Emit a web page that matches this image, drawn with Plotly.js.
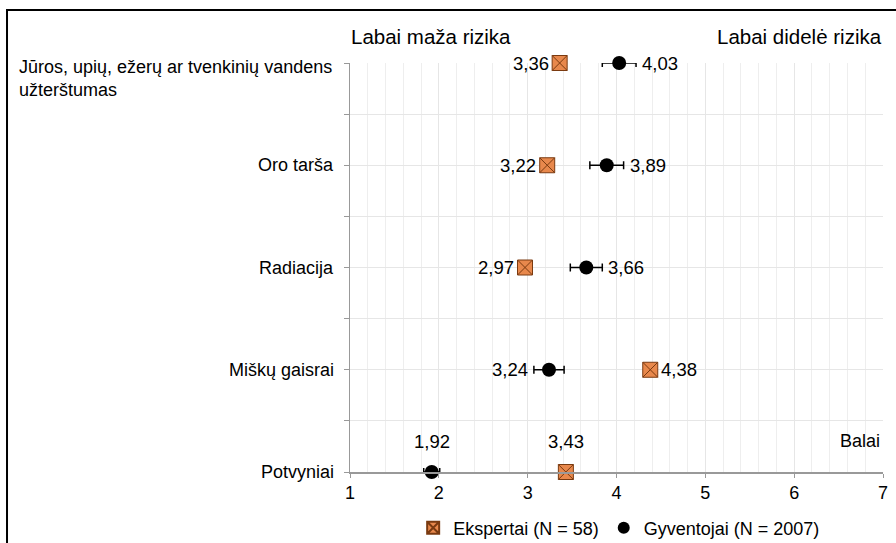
<!DOCTYPE html>
<html><head><meta charset="utf-8">
<script src="https://cdn.plot.ly/plotly-3.0.1.min.js"></script>
<style>html,body{margin:0;padding:0;background:#fff}#c{width:896px;height:543px}</style>
</head><body><div id="c"></div>
<script>
const categories = ["Potvyniai","Miškų gaisrai","Radiacija","Oro tarša","Jūros, upių, ežerų ar tvenkinių vandens<br>užterštumas"];
const expertai = [3.43, 4.38, 2.97, 3.22, 3.36];
const gyventojai = [1.92, 3.24, 3.66, 3.89, 4.03];
const gyvErr = [0.09, 0.17, 0.18, 0.19, 0.19];
const expSide = ["top","right","left","left","left"];
const gyvSide = ["top","left","right","right","right"];
const fmt = v => v.toFixed(2).replace('.', ',');
const yIdx = categories.map((c,i)=>i);
const F = "Liberation Sans, Arial, sans-serif";
const LBL = 18.5;

const traces = [
 {type:'scatter', mode:'markers', name:'Ekspertai (N = 58)', x:expertai, y:yIdx,
  marker:{symbol:'square-x', size:15, color:'#E8884C', line:{color:'#7a3a10', width:1}}, cliponaxis:false},
 {type:'scatter', mode:'markers', name:'Gyventojai (N = 2007)', x:gyventojai, y:yIdx,
  error_x:{type:'data', array:gyvErr, color:'#000', thickness:1.5, width:4},
  marker:{symbol:'circle', size:14, color:'#000'}, cliponaxis:false}
];

const ann = [
 {xref:'paper', yref:'paper', x:-0.002, y:1.065, xanchor:'left', yanchor:'middle', text:'Labai maža rizika', showarrow:false, font:{family:F,size:20.5,color:'#000'}},
 {xref:'paper', yref:'paper', x:1.002, y:1.065, xanchor:'right', yanchor:'middle', text:'Labai didelė rizika', showarrow:false, font:{family:F,size:20.5,color:'#000'}},
 {xref:'paper', yref:'paper', x:0.998, y:0.076, xanchor:'right', yanchor:'middle', text:'Balai', showarrow:false, font:{family:F,size:18,color:'#000'}}
];
function label(v, y, side, halfw) {
  const a = {xref:'x', yref:'y', x:v, y:y, text:fmt(v), showarrow:false, font:{family:F,size:LBL,color:'#000'}, yanchor:'middle'};
  if (side==='left') { a.xanchor='right'; a.xshift=-halfw; }
  else if (side==='right') { a.xanchor='left'; a.xshift=halfw; }
  else { a.xanchor='center'; a.yshift=31; }
  return a;
}
yIdx.forEach(i=>{
  ann.push(label(expertai[i], i, expSide[i], 9));
  const g = label(gyventojai[i], i, gyvSide[i], 4);
  if (gyvSide[i]==='right') g.x = gyventojai[i] + gyvErr[i];
  if (gyvSide[i]==='left') g.x = gyventojai[i] - gyvErr[i];
  g.text = fmt(gyventojai[i]);
  ann.push(g);
});
categories.forEach((c,i)=>{
  if (i===4) {
    ann.push({xref:'paper', yref:'y', x:-0.624, y:i, xanchor:'left', yanchor:'top', yshift:8, align:'left', text:c, showarrow:false, font:{family:F,size:18,color:'#000'}});
  } else {
    ann.push({xref:'paper', yref:'y', x:-0.027, y:i, xanchor:'right', yanchor:'middle', text:c, showarrow:false, font:{family:F,size:18,color:'#000'}});
  }
});

const layout = {
  width:896, height:543, margin:{l:350, r:13, t:63, b:71, autoexpand:false},
  paper_bgcolor:'#fff', plot_bgcolor:'#fff', font:{family:F, size:18, color:'#000'},
  showlegend:true,
  legend:{orientation:'h', x:0.505, xanchor:'center', y:-0.092, yanchor:'top', font:{family:F,size:18}, itemwidth:30, itemsizing:'constant', tracegroupgap:0},
  xaxis:{range:[1,7], dtick:1, tick0:1, showgrid:true, gridcolor:'#e6e6e6', zeroline:false,
    showline:true, linecolor:'#999', linewidth:1.5, ticks:'outside', ticklen:4, tickcolor:'#999', tickfont:{family:F,size:18},
    minor:{dtick:0.2, showgrid:true, gridcolor:'#eeeeee', gridwidth:1}},
  yaxis:{range:[0,4], dtick:0.5, tick0:0, showticklabels:false, showgrid:true, gridcolor:'#e6e6e6', zeroline:false,
    showline:true, linecolor:'#999', linewidth:1.5, ticks:'outside', ticklen:5, tickcolor:'#999'},
  annotations:ann,
  shapes:[{type:'rect', xref:'paper', yref:'paper', x0:-0.6435, x1:1.1, y0:-0.35, y1:1.1296, line:{color:'#000', width:2}, fillcolor:'rgba(0,0,0,0)'}]
};
Plotly.newPlot('c', traces, layout, {displayModeBar:false, staticPlot:true});
</script></body></html>
